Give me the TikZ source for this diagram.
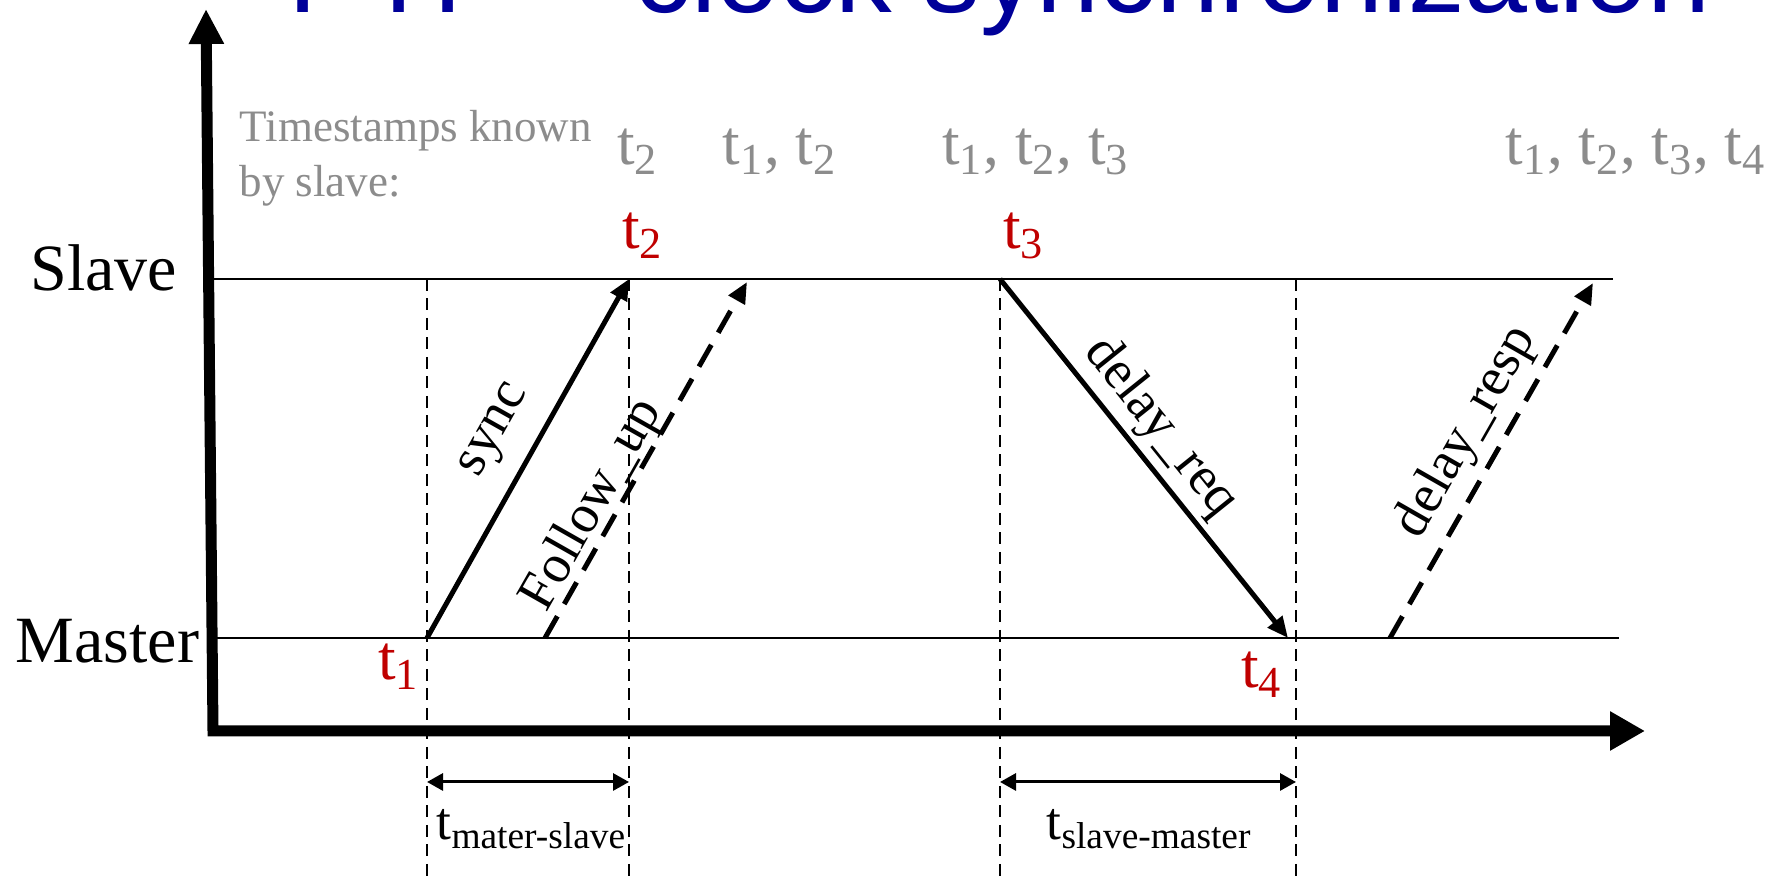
\documentclass[tikz,border=0pt]{standalone}
\usepackage{fontspec}
\setmainfont{Liberation Serif}
\newfontfamily\headfont{Liberation Sans}
\usepackage{xcolor}
\definecolor{tred}{HTML}{C00000}
\definecolor{mute}{HTML}{8C8C8C}
\definecolor{head}{HTML}{000099}
\usetikzlibrary{arrows.meta,calc}
\tikzset{
  lane/.style={line width=0.2mm},
  guide/.style={line width=0.22mm,dash pattern=on 1.2mm off 0.75mm},
  taxis/.style={line width=1.1mm,line join=miter,arrows={Triangle[length=3.5mm,width=3.3mm]-Triangle[length=3.5mm,width=3.7mm]}},
  msg/.style={line width=0.5mm,-{Triangle[length=2.1mm,width=1.8mm]}},
  dmsg/.style={msg,dash pattern=on 2.5mm off 1.4mm},
  durarr/.style={line width=0.3mm,{Triangle[length=1.6mm,width=1.7mm]}-{Triangle[length=1.6mm,width=1.7mm]}},
  mlab/.style={font=\fontsize{15.4}{18}\selectfont,inner sep=0pt,sloped},
  tst/.style={text=tred,font=\fontsize{18}{21}\selectfont,inner sep=0pt,anchor=base},
  known/.style={text=mute,font=\fontsize{18}{21}\selectfont,inner sep=0pt,anchor=base},
  role/.style={font=\fontsize{18.8}{22}\selectfont,inner sep=0pt,anchor=base east},
  dur/.style={font=\fontsize{15.2}{18}\selectfont,inner sep=0pt,anchor=base west},
}

\begin{document}
\begin{tikzpicture}[x=1mm,y=1mm]
\useasboundingbox (0,0) rectangle (176.7,87.6);
% heading, cut by the top edge
\node[text=head,font=\headfont\fontsize{32.2}{38}\selectfont,inner sep=0pt,anchor=base west] (ttl) at (28.8,86.3) {PTP – clock synchronization};

\coordinate (bot) at (0,0);
\coordinate (lvl) at (0,9.4);
\coordinate (org) at (21.3,14.5);
\coordinate (ytip) at (20.6,86.7);
\coordinate (xtip) at (164.5,14.5);
\coordinate (sl0) at (21.3,59.7); \coordinate (sl1) at (161.3,59.7);
\coordinate (ma0) at (21.3,23.8); \coordinate (ma1) at (161.9,23.8);
% event points
\coordinate (p1) at (42.7,23.8);
\coordinate (p2) at (62.9,59.7);
\coordinate (p3) at (100.0,59.7);
\coordinate (p4) at (129.6,23.8);
\coordinate (rq) at (128.8,23.8);
\coordinate (fu0) at (54.5,23.8); \coordinate (fu1) at (74.7,59.4);
\coordinate (dr0) at (139.0,23.8); \coordinate (dr1) at (159.3,59.3);

% lanes
\draw[lane] (sl0) -- (sl1);
\draw[lane] (ma0) -- (ma1);
\node[role] (slave) at (17.8,58.5) {Slave};
\node[role] (master) at (20.0,21.3) {Master};

% guides
\foreach \p in {p1,p2,p3,p4} \draw[guide] (\p |- sl0) -- (\p |- bot);

% axes
\draw[taxis] (ytip) -- (org) -- (xtip);

% messages
\draw[msg] (p1) -- (p2) node[mlab,pos=0.52,above=1.9mm] (lsync) {sync};
\draw[dmsg] (fu0) -- (fu1) node[mlab,pos=0.34,above=-0.3mm] (lfup) {Follow\_up};
\draw[msg] (p3) -- (rq) node[mlab,pos=0.47,above=0.5mm] (lreq) {delay\_req};
\draw[dmsg] (dr0) -- (dr1) node[mlab,pos=0.53,above=0.85mm] (lresp) {delay\_resp};

% stamps
\node[tst] (t1) at (39.9,19.6) {t\textsubscript{1}};
\node[tst] (t2) at (64.3,62.7) {t\textsubscript{2}};
\node[tst] (t3) at (102.4,62.7) {t\textsubscript{3}};
\node[tst] (t4) at (126.2,18.8) {t\textsubscript{4}};

% what the slave knows
\node[text=mute,font=\fontsize{12.8}{15.6}\selectfont,inner sep=0pt,align=left,anchor=west] (kn) at (23.9,71.8) {Timestamps known\\by slave:};
\node[known] (k1) at (63.8,71.1) {t\textsubscript{2}};
\node[known] (k2) at (78.0,71.1) {t\textsubscript{1}, t\textsubscript{2}};
\node[known] (k3) at (103.6,71.1) {t\textsubscript{1}, t\textsubscript{2}, t\textsubscript{3}};
\node[known] (k4) at (163.6,71.1) {t\textsubscript{1}, t\textsubscript{2}, t\textsubscript{3}, t\textsubscript{4}};

% durations
\draw[durarr] (p1 |- lvl) -- (p2 |- lvl);
\draw[durarr] (p3 |- lvl) -- (p4 |- lvl);
\node[dur] (dms) at (43.6,3.6) {t\textsubscript{mater-slave}};
\node[dur] (dsm) at (104.6,3.6) {t\textsubscript{slave-master}};
\end{tikzpicture}
\end{document}
